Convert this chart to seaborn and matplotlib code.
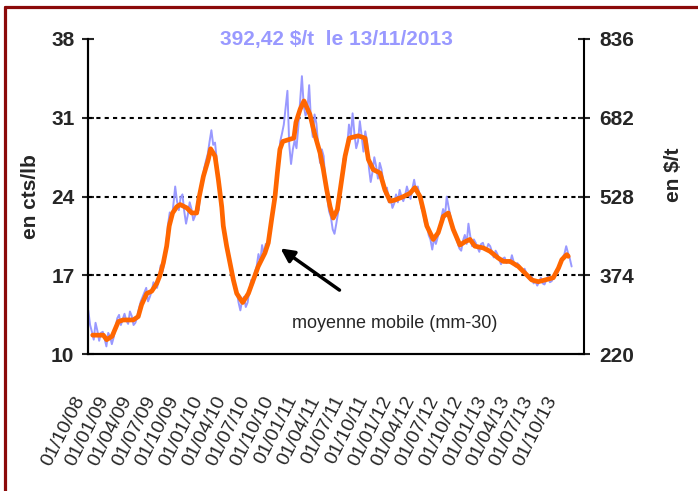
import seaborn as sns
import pandas as pd
import matplotlib.pyplot as plt
from matplotlib.lines import Line2D

# cours du sucre en cts/lb, un relevé par semaine du 01/10/2008 au 13/11/2013
cours_debut = "2008-10-01"
cours_cts_lb = [
    13.9, 12.6, 12.0, 11.3, 12.8, 12.1, 11.2, 11.9, 12.0, 11.4, 10.7, 11.9, 11.6, 10.9, 11.5, 12.3, 13.2, 13.5, 12.6, 13.1,
    13.6, 13.0, 12.7, 13.8, 13.4, 12.6, 12.8, 13.3, 14.1, 14.7, 15.1, 15.5, 15.9, 14.7, 15.1, 15.6, 16.4, 16.0, 15.9, 16.8,
    17.9, 17.3, 18.2, 19.6, 21.5, 22.6, 21.9, 23.3, 24.9, 23.6, 22.8, 23.9, 24.2, 22.7, 21.6, 22.4, 23.5, 22.9, 21.9, 22.3,
    23.2, 22.8, 24.9, 25.4, 26.5, 27.2, 27.8, 28.9, 29.9, 28.6, 28.8, 27.2, 25.0, 23.4, 22.0, 20.9, 19.8, 19.4, 18.6, 17.5,
    16.4, 15.9, 15.6, 14.6, 13.9, 14.8, 15.1, 14.2, 14.6, 15.7, 16.6, 16.2, 17.3, 17.8, 18.9, 18.2, 19.7, 18.9, 19.8, 19.6,
    20.3, 21.6, 23.0, 24.4, 24.8, 26.6, 28.9, 29.6, 30.4, 31.9, 33.4, 28.6, 26.9, 28.2, 29.0, 28.3, 30.2, 32.4, 34.7, 32.1,
    31.2, 31.6, 33.9, 30.8, 29.3, 31.3, 30.5, 28.6, 27.0, 28.2, 27.6, 25.3, 23.9, 22.7, 22.2, 21.1, 20.7, 21.6, 22.6, 24.1,
    25.9, 27.4, 27.2, 28.5, 30.4, 29.3, 31.4, 29.6, 28.3, 28.9, 30.7, 29.4, 28.0, 29.8, 28.9, 26.6, 25.3, 26.2, 27.5, 26.7,
    25.6, 27.0, 26.4, 25.3, 24.2, 24.8, 23.5, 23.9, 23.0, 23.4, 24.2, 23.5, 24.6, 24.0, 23.6, 24.1, 24.9, 24.3, 23.8, 24.7,
    25.5, 24.6, 24.9, 24.1, 23.0, 22.6, 21.6, 21.9, 20.6, 20.2, 19.3, 20.3, 19.8, 20.4, 21.0, 22.1, 22.9, 22.2, 24.0, 23.1,
    22.3, 21.5, 20.9, 20.4, 19.9, 19.4, 19.2, 20.1, 20.6, 19.8, 21.6, 20.5, 19.6, 20.2, 19.9, 19.5, 19.1, 19.8, 19.9, 19.3,
    19.3, 19.8, 19.6, 19.1, 18.6, 19.2, 18.9, 18.4, 18.0, 18.5, 18.6, 18.1, 18.3, 18.1, 18.8, 18.2, 17.8, 18.1, 17.9, 17.6,
    17.3, 17.6, 17.2, 16.8, 16.6, 16.9, 16.3, 16.5, 16.1, 16.4, 16.8, 16.3, 16.2, 16.6, 16.9, 16.4, 16.5, 16.9, 17.0, 17.2,
    17.6, 18.0, 18.6, 18.9, 19.6, 19.0, 18.5, 17.8,  # 17,8 cts/lb = 392,42 $/t le 13/11/2013
]

# moyenne mobile 30 jours
mm30_dates = [
    "2008-10-18", "2008-11-28", "2008-12-11",
    "2009-01-01", "2009-01-25", "2009-02-13", "2009-03-24", "2009-04-12", "2009-04-25",
    "2009-05-15", "2009-06-03", "2009-06-23", "2009-07-05", "2009-07-18", "2009-07-31",
    "2009-08-10", "2009-08-23", "2009-09-08", "2009-09-21", "2009-10-17", "2009-11-05",
    "2009-11-24", "2009-12-04", "2009-12-20",
    "2010-01-08", "2010-01-17", "2010-02-03", "2010-02-16", "2010-03-01", "2010-03-07",
    "2010-03-20", "2010-04-02", "2010-04-15", "2010-04-28", "2010-05-21", "2010-06-12",
    "2010-07-01", "2010-07-20", "2010-08-15", "2010-08-28", "2010-09-10", "2010-09-23",
    "2010-10-02", "2010-10-12", "2010-10-23", "2010-11-20", "2010-12-05", "2010-12-13",
    "2010-12-29",
    "2011-01-13", "2011-02-05", "2011-02-24", "2011-03-16", "2011-03-29", "2011-04-11",
    "2011-04-24", "2011-05-06", "2011-05-22", "2011-06-04", "2011-06-21", "2011-07-07",
    "2011-08-11", "2011-09-06", "2011-09-19", "2011-10-08", "2011-11-03", "2011-11-22",
    "2011-12-12", "2011-12-31",
    "2012-02-01", "2012-02-27", "2012-03-17", "2012-04-06", "2012-04-18", "2012-05-02",
    "2012-05-27", "2012-06-15", "2012-07-05", "2012-07-24", "2012-08-12", "2012-09-07",
    "2012-09-27", "2012-10-16", "2012-11-04", "2012-12-06",
    "2013-01-01", "2013-02-02", "2013-02-22", "2013-03-20", "2013-04-21", "2013-05-17",
    "2013-06-12", "2013-07-07", "2013-08-02", "2013-09-03", "2013-09-23", "2013-10-06",
    "2013-10-25", "2013-10-31",
]
mm30_cts_lb = [
    11.7, 11.7, 11.3,
    11.6, 12.9, 13.05, 13.05, 13.35, 14.4, 15.4, 15.6, 16.3, 17.0, 18.1, 19.6,
    21.4, 22.55, 23.1, 23.3, 23.0, 22.55, 22.55, 24.0, 25.8,
    27.3, 28.25, 27.6, 25.5, 23.1, 21.4, 19.6, 18.1, 16.6, 15.4, 14.6, 15.4,
    16.6, 17.8, 19.0, 19.9, 22.0, 24.0, 26.1, 28.2, 28.9, 29.1, 29.2, 30.6, 31.75,
    32.5, 31.3, 29.5, 27.9, 26.4, 24.6, 23.1, 22.1, 22.85, 24.9, 27.6, 29.2,
    29.4, 29.2, 27.3, 26.4, 26.1, 24.6, 23.6, 23.7,
    24.0, 24.3, 24.8, 24.0, 22.85, 21.4, 20.2, 20.8, 22.25, 22.55, 21.1, 19.7,
    20.0, 20.2, 19.6, 19.45,
    19.15, 18.55, 18.25, 18.25, 17.8, 17.2, 16.6, 16.45, 16.6, 16.8, 17.65, 18.4,
    18.85, 18.7,
]

tick_dates = [
    "2008-10-01", "2009-01-01", "2009-04-01", "2009-07-01", "2009-10-01",
    "2010-01-01", "2010-04-01", "2010-07-01", "2010-10-01", "2011-01-01",
    "2011-04-01", "2011-07-01", "2011-10-01", "2012-01-01", "2012-04-01",
    "2012-07-01", "2012-10-01", "2013-01-01", "2013-04-01", "2013-07-01",
    "2013-10-01", "2014-01-01",
]
tick_labels = [
    "01/10/08", "01/01/09", "01/04/09", "01/07/09", "01/10/09",
    "01/01/10", "01/04/10", "01/07/10", "01/10/10", "01/01/11",
    "01/04/11", "01/07/11", "01/10/11", "01/01/12", "01/04/12",
    "01/07/12", "01/10/12", "01/01/13", "01/04/13", "01/07/13",
    "01/10/13", "",
]
left_ticks = [10, 17, 24, 31, 38]
right_ticks = [220, 374, 528, 682, 836]

BLUE = "#9999FF"
ORANGE = "#FF6600"
FONT = "Liberation Sans"

sns.set_style("white")
plt.rcParams["font.family"] = [FONT, "DejaVu Sans"]

cours = pd.DataFrame({
    "date": pd.date_range(cours_debut, periods=len(cours_cts_lb), freq="7D"),
    "cts": cours_cts_lb,
})
mm30 = pd.DataFrame({"date": pd.to_datetime(mm30_dates), "cts": mm30_cts_lb})

fig = plt.figure(figsize=(6.98, 4.91), dpi=100)
ax = fig.add_axes([88.3 / 698, 1 - 354.3 / 491, 496 / 698, 315.3 / 491])

for level in left_ticks[1:-1]:
    ax.axhline(level, color="black", lw=1.5, linestyle=(0, (2, 2)), zorder=1)

sns.lineplot(data=cours, x="date", y="cts", color=BLUE, lw=1.4, ax=ax, zorder=2)
sns.lineplot(data=mm30, x="date", y="cts", color=ORANGE, lw=3.4, ax=ax, zorder=3)

ax.set_xlim(pd.Timestamp(tick_dates[0]), pd.Timestamp(tick_dates[-1]))
ax.set_ylim(left_ticks[0], left_ticks[-1])
ax.set_xticks(pd.to_datetime(tick_dates))
ax.set_xticklabels(tick_labels, rotation=63, ha="right", va="top", fontsize=14)
ax.set_yticks(left_ticks, labels=[str(v) for v in left_ticks], fontsize=15, fontweight="bold")
ax.tick_params(axis="x", direction="out", length=5, width=1.5, pad=23)
ax.tick_params(axis="y", direction="inout", length=8, width=1.5, pad=6)
ax.set_xlabel("")
ax.set_ylabel("en cts/lb", fontsize=15, fontweight="bold")
ax.yaxis.set_label_coords(-0.097, 0.5)

ax2 = ax.twinx()
ax2.set_ylim(right_ticks[0], right_ticks[-1])
ax2.set_yticks(right_ticks, labels=[str(v) for v in right_ticks], fontsize=15, fontweight="bold")
ax2.tick_params(axis="y", direction="inout", length=8, width=1.5, pad=7)
ax2.set_ylabel("en $/t", fontsize=15, fontweight="bold")
ax2.yaxis.set_label_coords(1.161, 0.57)

for a in (ax, ax2):
    a.spines["top"].set_visible(False)
    for side in ("left", "right", "bottom"):
        a.spines[side].set_linewidth(1.5)
        a.spines[side].set_color("black")
ax.spines["right"].set_visible(False)

ax.text(0.5, 1.0, "392,42 $/t  le 13/11/2013", transform=ax.transAxes,
        ha="center", va="center", color=BLUE, fontsize=15, fontweight="bold")

ax.annotate("", xy=(0.383, 0.341), xytext=(0.511, 0.1985),
            xycoords="axes fraction", textcoords="axes fraction",
            arrowprops=dict(arrowstyle="-|>", lw=2.5, color="black", mutation_scale=20))
ax.text(0.618, 0.099, "moyenne mobile (mm-30)", transform=ax.transAxes,
        ha="center", va="center", fontsize=13)

# cadre rouge foncé (haut et gauche)
fig.add_artist(Line2D([5 / 698, 1], [1 - 7 / 491, 1 - 7 / 491], transform=fig.transFigure,
                      color="#8B0A0A", lw=2.3))
fig.add_artist(Line2D([5 / 698, 5 / 698], [0, 1 - 7 / 491], transform=fig.transFigure,
                      color="#8B0A0A", lw=2.3))

fig.savefig("out.png", dpi=100)
